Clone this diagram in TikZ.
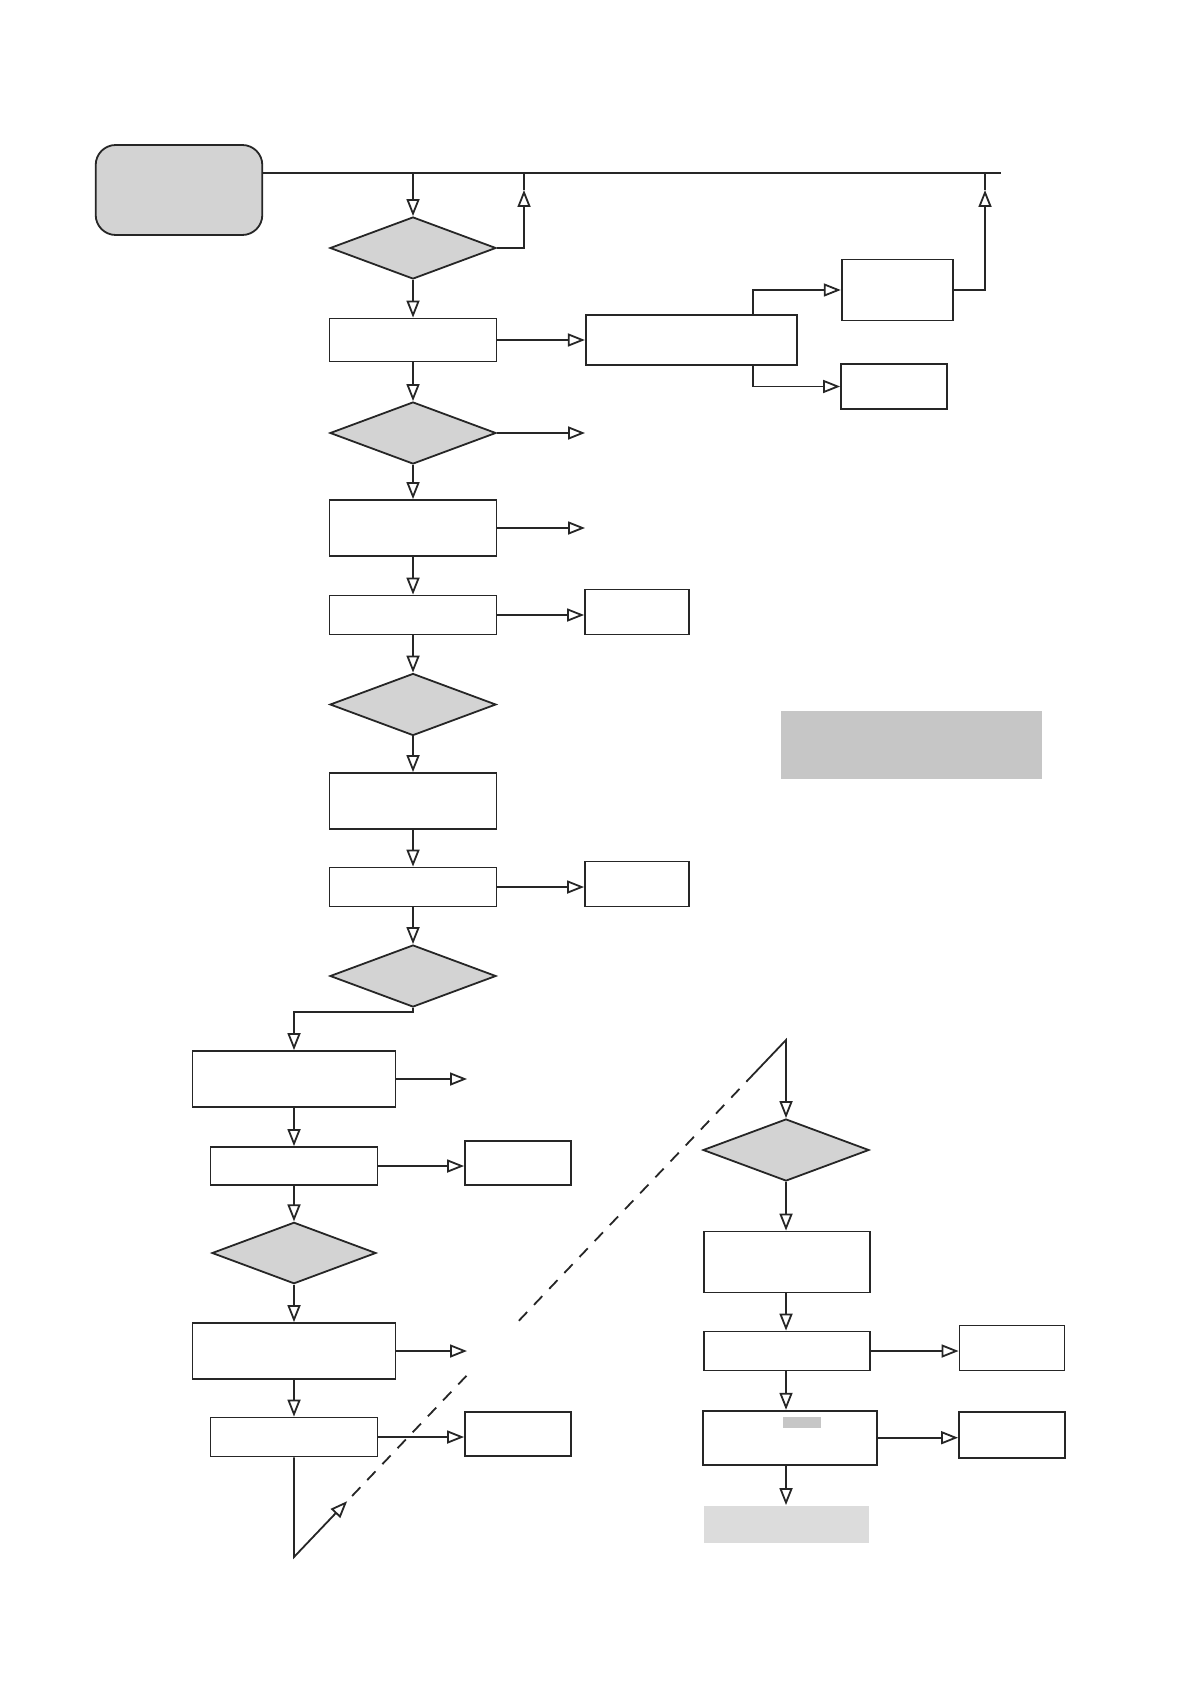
\documentclass[tikz,border=0pt]{standalone}
\usepackage{tikz}
\usetikzlibrary{shapes.geometric, arrows.meta, calc}
\definecolor{shade}{HTML}{D3D3D3}
\definecolor{notegrey}{HTML}{C6C6C6}
\definecolor{endgrey}{HTML}{DCDCDC}
\tikzstyle{startend} = [rectangle, rounded corners=10pt, minimum width=83.3pt, minimum height=45pt, inner sep=0pt, draw, fill=shade]
\tikzstyle{decision} = [diamond, minimum width=83pt, minimum height=31pt, inner sep=0pt, draw, fill=shade]
\tikzstyle{process} = [rectangle, minimum width=83.5pt, minimum height=20pt, inner sep=0pt, draw, fill=white]
\tikzstyle{tallprocess} = [process, minimum height=28pt]
\tikzstyle{wideprocess} = [process, minimum width=101.5pt, minimum height=28pt]
\tikzstyle{outbox} = [rectangle, minimum width=52.5pt, minimum height=22.5pt, inner sep=0pt, draw, fill=white]
\tikzstyle{greybox} = [rectangle, inner sep=0pt, draw=none]
\tikzstyle{arrow} = [-{Triangle[open, length=8.5pt, width=6.5pt]}]
\tikzstyle{returnline} = [dash pattern=on 6pt off 5pt]

\begin{document}
\begin{tikzpicture}[x=0.5pt, y=-0.5pt, line width=0.9pt, draw=black!85]

    \useasboundingbox (0,0) rectangle (1190,1684);

    % start and top bus
    \node (start) [startend] at (179,190) {};
    \coordinate (topend) at (1001,173);

    % main column
    \node (d1) [decision] at (413,248) {};
    \node (b1) [process, minimum height=21.5pt] at (413,340) {};
    \node (d2) [decision] at (413,433) {};
    \node (b2) [tallprocess] at (413,528) {};
    \node (b3) [process, minimum height=19.5pt] at (413,615) {};
    \node (d3) [decision] at (413,704.5) {};
    \node (b4) [tallprocess] at (413,801) {};
    \node (b5) [process, minimum height=19.5pt] at (413,887) {};
    \node (d4) [decision] at (413,976) {};

    % side boxes of main column
    \node (bb) [process, minimum width=105.5pt, minimum height=25pt] at (691.3,340) {};
    \node (o1a) [outbox, minimum width=55.8pt, minimum height=30.5pt] at (897.5,290) {};
    \node (o1b) [outbox, minimum width=53pt] at (894,386.5) {};
    \node (o3) [outbox, minimum width=52pt] at (637,612) {};
    \node (o5) [outbox, minimum width=52pt] at (637,884) {};
    \node (note) [greybox, fill=notegrey, minimum width=130.5pt, minimum height=33.8pt] at (911.3,744.8) {};

    % lower left column
    \node (b6) [wideprocess] at (294,1079) {};
    \node (b7) [process, minimum height=19pt] at (294,1166) {};
    \node (o7) [outbox, minimum width=53pt, minimum height=22pt] at (518,1162.6) {};
    \node (d5) [decision, minimum width=82pt, minimum height=30.7pt] at (294,1253) {};
    \node (b8) [wideprocess] at (294,1351) {};
    \node (b9) [process, minimum height=19.5pt] at (294,1437) {};
    \node (o9) [outbox, minimum width=53pt, minimum height=22pt] at (518,1434) {};

    % lower right column
    \node (d6) [decision] at (786,1150) {};
    \node (b10) [process, minimum width=83.3pt, minimum height=30.5pt] at (787,1262) {};
    \node (b11) [process, minimum width=83.3pt, minimum height=19.5pt] at (787,1351) {};
    \node (o11) [outbox] at (1012,1348) {};
    \node (b12) [process, minimum width=87.3pt, minimum height=27pt] at (790,1437.7) {};
    \node (blob) [greybox, fill=notegrey, minimum width=19pt, minimum height=5.5pt] at (801.7,1422.5) {};
    \node (o12) [outbox, minimum width=53pt, minimum height=22.7pt] at (1012,1435) {};
    \node (endbox) [greybox, fill=endgrey, minimum width=82.5pt, minimum height=18.3pt] at (786,1524.3) {};

    % free ends and bends
    \coordinate (ret1) at (524,190);
    \coordinate (ret2) at (985,190);
    \coordinate (bbx) at (752.7,340);
    \coordinate (f2) at (585,433);
    \coordinate (f3) at (585,528);
    \coordinate (f6) at (467,1079);
    \coordinate (f8) at (467,1351);
    \coordinate (apex) at (294,1557);
    \coordinate (peak) at (786,1040);

    % top bus and returns
    \draw (start.east |- topend) -- (topend);
    \draw [arrow] (d1.north |- topend) -- (d1.north);
    \draw [arrow] (d1.east) -| (ret1);
    \draw (ret1) -- (ret1 |- topend);
    \draw [arrow] (o1a.east) -| (ret2);
    \draw (ret2) -- (ret2 |- topend);

    % main column flow
    \draw [arrow] (d1.south) -- (b1.north);
    \draw [arrow] (b1.east) -- (bb.west);
    \draw [arrow] (bbx |- bb.north) |- (o1a.west);
    \draw [arrow] (bbx |- bb.south) |- (o1b.west);
    \draw [arrow] (b1.south) -- (d2.north);
    \draw [arrow] (d2.east) -- (f2);
    \draw [arrow] (d2.south) -- (b2.north);
    \draw [arrow] (b2.east) -- (f3);
    \draw [arrow] (b2.south) -- (b3.north);
    \draw [arrow] (b3.east) -- (b3.east -| o3.west);
    \draw [arrow] (b3.south) -- (d3.north);
    \draw [arrow] (d3.south) -- (b4.north);
    \draw [arrow] (b4.south) -- (b5.north);
    \draw [arrow] (b5.east) -- (b5.east -| o5.west);
    \draw [arrow] (b5.south) -- (d4.north);
    \draw [arrow] (d4.south) -- ++(0,4.3) -| (b6.north);

    % lower left flow
    \draw [arrow] (b6.east) -- (f6);
    \draw [arrow] (b6.south) -- (b7.north);
    \draw [arrow] (b7.east) -- (b7.east -| o7.west);
    \draw [arrow] (b7.south) -- (d5.north);
    \draw [arrow] (d5.south) -- (b8.north);
    \draw [arrow] (b8.east) -- (f8);
    \draw [arrow] (b8.south) -- (b9.north);
    \draw [arrow] (b9.east) -- (b9.east -| o9.west);

    % jump to the right column
    \draw [arrow] (b9.south) -- (apex) -- ($(apex)!0.108!(peak)$);
    \draw [returnline] ($(apex)!0.118!(peak)$) -- ($(apex)!0.363!(peak)$);
    \draw [returnline] ($(apex)!0.457!(peak)$) -- ($(apex)!0.93!(peak)$);
    \draw [arrow] ($(apex)!0.93!(peak)$) -- (peak) -- (d6.north);

    % lower right flow
    \draw [arrow] (d6.south) -- (b10.north -| d6.south);
    \draw [arrow] (b10.south -| d6.south) -- (b11.north -| d6.south);
    \draw [arrow] (b11.east) -- (b11.east -| o11.west);
    \draw [arrow] (b11.south -| d6.south) -- (b12.north -| d6.south);
    \draw [arrow] (b12.east) -- (b12.east -| o12.west);
    \draw [arrow] (endbox.north |- b12.south) -- (endbox.north);

\end{tikzpicture}
\end{document}
